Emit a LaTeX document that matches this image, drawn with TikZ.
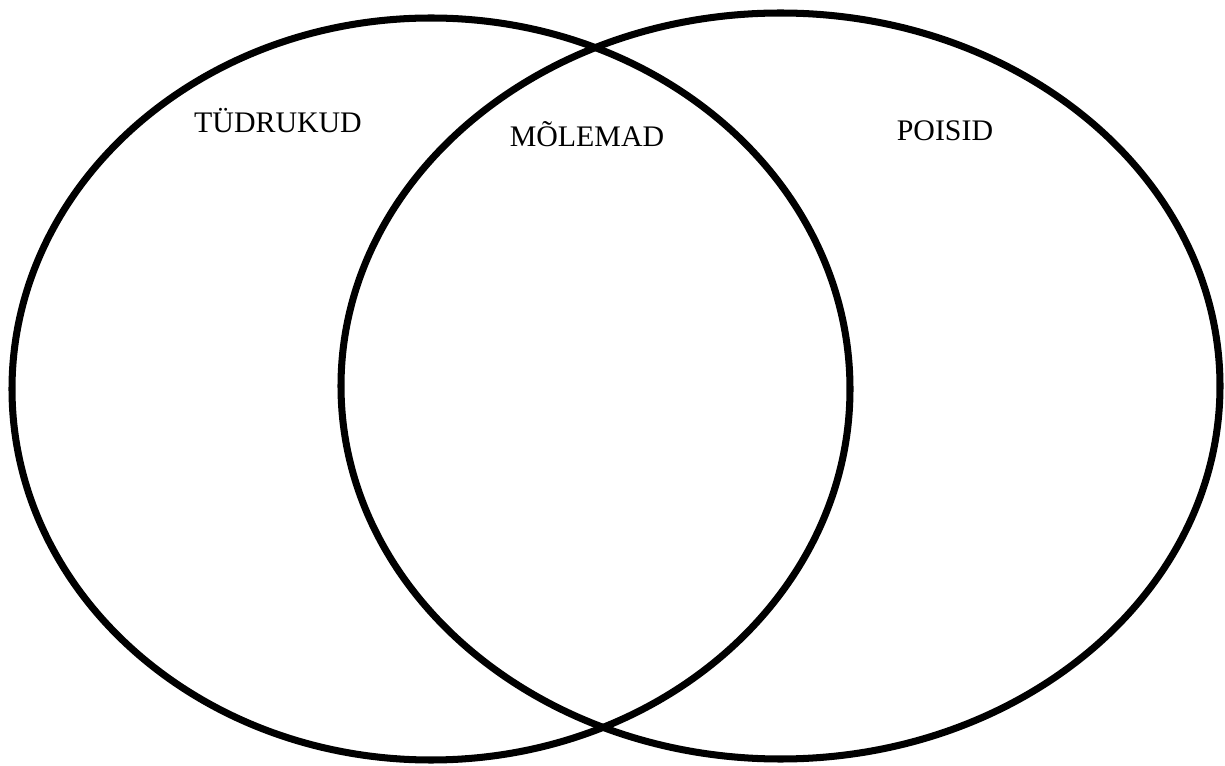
\documentclass[tikz,border=0pt]{standalone}
\usepackage{fontspec}
\setmainfont{Liberation Serif}
\usepackage{tikz}

\begin{document}
\begin{tikzpicture}[x=0.02cm, y=0.02cm,
    setline/.style={line width=4pt},
    setname/.style={font=\fontsize{17}{20}\selectfont, anchor=base, inner sep=0pt}]
			\useasboundingbox (0,0) rectangle (1225,765);
			\draw[setline] (431,376) ellipse [x radius=419, y radius=371];
			\draw[setline] (780.5,379) ellipse [x radius=439.5, y radius=373];
			\node[setname] (girls) at (278,632) {TÜDRUKUD};
			\node[setname] (both) at (587,618) {MÕLEMAD};
			\node[setname] (boys) at (945,624) {POISID};
		\end{tikzpicture}
\end{document}
